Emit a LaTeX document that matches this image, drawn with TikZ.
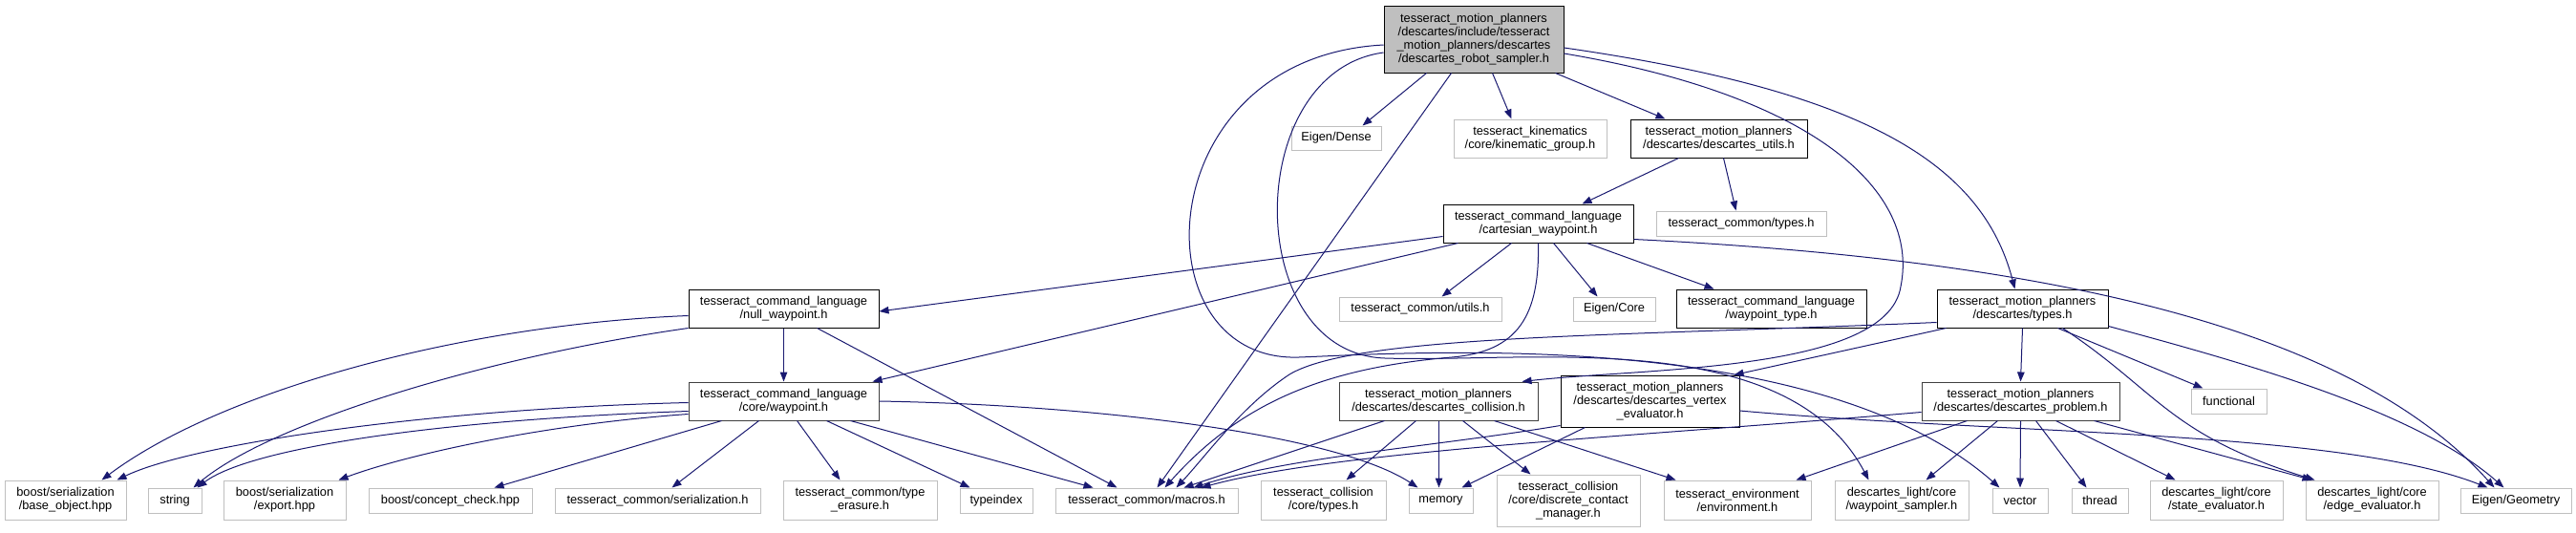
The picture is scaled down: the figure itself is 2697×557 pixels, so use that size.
\documentclass[tikz,border=0pt]{standalone}
\usepackage{fontspec}
\setmainfont{Liberation Sans}
\usetikzlibrary{arrows.meta}
\definecolor{edgecol}{HTML}{191970}
\definecolor{extgray}{HTML}{BFBFBF}
\definecolor{rootfill}{HTML}{BFBFBF}
\definecolor{docgray}{HTML}{404040}
\newcommand\dgfont{\fontsize{12.8pt}{14pt}\selectfont}
\tikzset{
  box/.style={fill=white, line width=1pt, inner sep=0pt, align=center, font=\dgfont},
  docbox/.style={box, draw=black},
  docbox2/.style={box, draw=docgray},
  extbox/.style={box, draw=extgray},
  rootbox/.style={box, draw=black, fill=rootfill},
  dep/.style={draw=edgecol, line width=1pt, -{Triangle[length=10pt,width=7.5pt]}}
}
\begin{document}
\begin{tikzpicture}[x=1pt,y=-1pt]
\useasboundingbox[fill=white] (0,0) rectangle (2697,557);
% row 0
\node[rootbox, minimum width=188pt, minimum height=70pt] (root) at (1543,41) {tesseract\_motion\_planners\\/descartes/include/tesseract\\\_motion\_planners/descartes\\/descartes\_robot\_sampler.h};
% row 1
\node[extbox, minimum width=94pt, minimum height=25pt] (dense) at (1399,144.5) {Eigen/Dense};
\node[extbox, minimum width=160pt, minimum height=40pt] (kin) at (1602,145) {tesseract\_kinematics\\/core/kinematic\_group.h};
\node[docbox, minimum width=185pt, minimum height=40pt] (dutils) at (1799.5,145) {tesseract\_motion\_planners\\/descartes/descartes\_utils.h};
% row 2
\node[docbox, minimum width=199pt, minimum height=40pt] (cart) at (1610.5,234) {tesseract\_command\_language\\/cartesian\_waypoint.h};
\node[extbox, minimum width=178pt, minimum height=26pt] (ctypes) at (1823,234) {tesseract\_common/types.h};
% row 3
\node[docbox, minimum width=199pt, minimum height=40pt] (nullwp) at (820.5,323) {tesseract\_command\_language\\/null\_waypoint.h};
\node[extbox, minimum width=170pt, minimum height=25pt] (cutils) at (1487,323.5) {tesseract\_common/utils.h};
\node[extbox, minimum width=86pt, minimum height=25pt] (ecore) at (1690,323.5) {Eigen/Core};
\node[docbox, minimum width=199pt, minimum height=40pt] (wptype) at (1854.5,323) {tesseract\_command\_language\\/waypoint\_type.h};
\node[docbox, minimum width=179pt, minimum height=40pt] (dtypes) at (2117.5,323) {tesseract\_motion\_planners\\/descartes/types.h};
% row 4
\node[docbox2, minimum width=199pt, minimum height=40pt] (corewp) at (820.5,420) {tesseract\_command\_language\\/core/waypoint.h};
\node[docbox2, minimum width=208pt, minimum height=40pt] (dcoll) at (1506,420) {tesseract\_motion\_planners\\/descartes/descartes\_collision.h};
\node[docbox, minimum width=187pt, minimum height=54pt] (dvert) at (1727.5,420) {tesseract\_motion\_planners\\/descartes/descartes\_vertex\\\_evaluator.h};
\node[docbox2, minimum width=207pt, minimum height=40pt] (dprob) at (2115.5,420) {tesseract\_motion\_planners\\/descartes/descartes\_problem.h};
\node[extbox, minimum width=79pt, minimum height=26pt] (func) at (2333.5,420) {functional};
% row 5
\node[extbox, minimum width=127pt, minimum height=41pt] (base) at (68.5,523.5) {boost/serialization\\/base\_object.hpp};
\node[extbox, minimum width=56pt, minimum height=26pt] (string) at (183,524) {string};
\node[extbox, minimum width=128pt, minimum height=41pt] (export) at (298,523.5) {boost/serialization\\/export.hpp};
\node[extbox, minimum width=171pt, minimum height=26pt] (concept) at (471.5,524) {boost/concept\_check.hpp};
\node[extbox, minimum width=215pt, minimum height=26pt] (serial) at (688.5,524) {tesseract\_common/serialization.h};
\node[extbox, minimum width=161pt, minimum height=41pt] (erasure) at (900.5,523.5) {tesseract\_common/type\\\_erasure.h};
\node[extbox, minimum width=76pt, minimum height=26pt] (typeindex) at (1043,524) {typeindex};
\node[extbox, minimum width=191pt, minimum height=26pt] (macros) at (1200.5,524) {tesseract\_common/macros.h};
\node[extbox, minimum width=131pt, minimum height=41pt] (ctypes2) at (1385.5,523.5) {tesseract\_collision\\/core/types.h};
\node[extbox, minimum width=67pt, minimum height=26pt] (memory) at (1508.5,524) {memory};
\node[extbox, minimum width=150pt, minimum height=54pt] (dcm) at (1642,524) {tesseract\_collision\\/core/discrete\_contact\\\_manager.h};
\node[extbox, minimum width=154pt, minimum height=41pt] (env) at (1819,523.5) {tesseract\_environment\\/environment.h};
\node[extbox, minimum width=140pt, minimum height=41pt] (wps) at (1991,523.5) {descartes\_light/core\\/waypoint\_sampler.h};
\node[extbox, minimum width=58pt, minimum height=26pt] (vector) at (2115,524) {vector};
\node[extbox, minimum width=59pt, minimum height=26pt] (thread) at (2198.5,524) {thread};
\node[extbox, minimum width=139pt, minimum height=41pt] (state) at (2320.5,523.5) {descartes\_light/core\\/state\_evaluator.h};
\node[extbox, minimum width=139pt, minimum height=41pt] (edge) at (2483.5,523.5) {descartes\_light/core\\/edge\_evaluator.h};
\node[extbox, minimum width=116pt, minimum height=26pt] (geom) at (2634,524) {Eigen/Geometry};

% root edges
\draw[dep] ([xshift=45pt]root.south west) -- ([xshift=75pt]dense.north west);
\draw[dep] ([xshift=114pt]root.south west) -- ([xshift=61pt]kin.north west);
\draw[dep] ([xshift=180pt]root.south west) -- ([xshift=37pt]dutils.north west);
\draw[dep] ([xshift=71pt]root.south west) -- ([xshift=107pt]macros.north west);
\draw[dep] ([yshift=-9pt]root.east) .. controls (1950,95) and (2075,170) .. ([xshift=82pt]dtypes.north west);
\draw[dep] ([yshift=-15pt]root.east) .. controls (1900,100) and (2010,200) .. (1990,300) .. controls (1976,390) and (1720,385) .. ([xshift=-17pt]dcoll.north east);
\draw[dep] ([yshift=-6pt]root.west) .. controls (1200,60) and (1190,380) .. (1360,374) .. controls (1470,370) and (1900,340) .. ([xshift=8pt]vector.north west);
\draw[dep] ([yshift=-14pt]root.west) .. controls (1300,75) and (1300,370) .. (1450,375) .. controls (1600,380) and (1870,340) .. ([xshift=36pt]wps.north west);
% descartes_utils edges
\draw[dep] ([xshift=51pt]dutils.south west) -- ([xshift=146pt]cart.north west);
\draw[dep] ([xshift=98pt]dutils.south west) -- ([xshift=84pt]ctypes.north west);
% cartesian_waypoint edges
\draw[dep] ([yshift=7pt]cart.south west) -- ([yshift=-3pt]nullwp.east);
\draw[dep] ([xshift=16pt]cart.south west) -- ([xshift=-7pt]corewp.north east);
\draw[dep] ([xshift=72pt]cart.south west) -- ([xshift=108pt]cutils.north west);
\draw[dep] ([xshift=100pt]cart.south west) .. controls (1612,330) and (1590,368) .. (1520,374) .. controls (1390,385) and (1300,420) .. ([xshift=115pt]macros.north west);
\draw[dep] ([xshift=116pt]cart.south west) -- ([xshift=26pt]ecore.north west);
\draw[dep] ([xshift=151pt]cart.south west) -- ([xshift=40pt]wptype.north west);
\draw[dep] ([yshift=4pt]cart.south east) .. controls (2100,270) and (2450,330) .. ([xshift=36pt]geom.north west);
% null_waypoint edges
\draw[dep] (nullwp.south) -- (corewp.north);
\draw[dep] ([xshift=135pt]nullwp.south west) -- ([xshift=65pt]macros.north west);
\draw[dep] ([yshift=13pt]nullwp.south west) .. controls (480,340) and (230,410) .. ([xshift=102pt]base.north west);
\draw[dep] (nullwp.south west) .. controls (500,375) and (280,445) .. ([xshift=48pt]string.north west);
% core/waypoint edges
\draw[dep] ([yshift=19pt]corewp.south west) .. controls (450,428) and (200,465) .. ([xshift=118pt]base.north west);
\draw[dep] ([yshift=10pt]corewp.south west) .. controls (450,440) and (260,470) .. ([xshift=52pt]string.north west);
\draw[dep] ([yshift=7pt]corewp.south west) .. controls (560,445) and (420,478) .. ([xshift=121pt]export.north west);
\draw[dep] ([xshift=35pt]corewp.south west) -- ([xshift=132pt]concept.north west);
\draw[dep] ([xshift=74pt]corewp.south west) -- ([xshift=123pt]serial.north west);
\draw[dep] ([xshift=114pt]corewp.south west) -- ([xshift=60pt]erasure.north west);
\draw[dep] ([xshift=145pt]corewp.south west) -- ([xshift=11pt]typeindex.north west);
\draw[dep] ([xshift=170pt]corewp.south west) -- ([xshift=40pt]macros.north west);
\draw[dep] (corewp.east) .. controls (1150,424) and (1400,455) .. ([xshift=10pt]memory.north west);
% descartes/types.h edges
\draw[dep] (dtypes.south) -- (dprob.north);
\draw[dep] ([xshift=127pt]dtypes.south west) -- ([xshift=13pt]func.north west);
\draw[dep] ([xshift=132pt]dtypes.south west) .. controls (2260,410) and (2270,455) .. ([xshift=10pt]edge.north west);
\draw[dep] ([yshift=2pt]dtypes.south east) .. controls (2350,380) and (2530,430) .. ([xshift=46pt]geom.north west);
\draw[dep] ([yshift=6pt]dtypes.south west) .. controls (1700,352) and (1420,350) .. (1350,392) .. controls (1300,425) and (1262,478) .. ([xshift=127pt]macros.north west);
\draw[dep] ([xshift=10pt]dtypes.south west) -- ([xshift=-6pt]dvert.north east);
% descartes_collision edges
\draw[dep] ([xshift=48pt]dcoll.south west) -- ([xshift=135pt]macros.north west);
\draw[dep] ([xshift=81pt]dcoll.south west) -- ([xshift=90pt]ctypes2.north west);
\draw[dep] ([xshift=105pt]dcoll.south west) -- ([xshift=32pt]memory.north west);
\draw[dep] ([xshift=130pt]dcoll.south west) -- ([xshift=36pt]dcm.north west);
\draw[dep] ([xshift=163pt]dcoll.south west) -- ([xshift=13pt]env.north west);
% vertex_evaluator edges
\draw[dep] ([yshift=2pt]dvert.south west) .. controls (1500,468) and (1350,478) .. ([xshift=145pt]macros.north west);
\draw[dep] ([xshift=26pt]dvert.south west) -- ([xshift=-12pt]memory.north east);
\draw[dep] ([yshift=-10pt]dvert.east) .. controls (2100,455) and (2450,450) .. ([xshift=29pt]geom.north west);
% descartes_problem edges
\draw[dep] ([yshift=9pt]dprob.south west) .. controls (1700,458) and (1400,472) .. ([xshift=153pt]macros.north west);
\draw[dep] ([xshift=48pt]dprob.south west) -- ([xshift=-16pt]env.north east);
\draw[dep] ([xshift=80pt]dprob.south west) -- ([xshift=96pt]wps.north west);
\draw[dep] (dprob.south) -- (vector.north);
\draw[dep] ([xshift=120pt]dprob.south west) -- ([xshift=16pt]thread.north west);
\draw[dep] ([xshift=141pt]dprob.south west) -- ([xshift=27pt]state.north west);
\draw[dep] ([xshift=181pt]dprob.south west) -- ([xshift=7pt]edge.north west);
\end{tikzpicture}
\end{document}
